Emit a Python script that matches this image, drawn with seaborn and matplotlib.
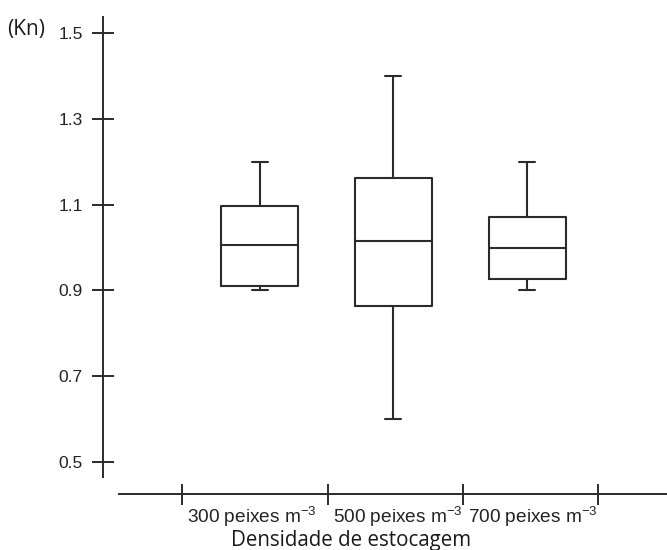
import matplotlib
matplotlib.use("Agg")
import matplotlib.pyplot as plt
import seaborn as sns
import pandas as pd

# Data: five-number summaries per group (min, Q1, median, Q3, max)
groups = ["300", "500", "700"]
tick_labels = [r"300 peixes m$^{\mathrm{-3}}$", r"500 peixes m$^{\mathrm{-3}}$", r"700 peixes m$^{\mathrm{-3}}$"]
kn_300 = [0.900, 0.911, 1.006, 1.096, 1.200]
kn_500 = [0.600, 0.863, 1.014, 1.163, 1.400]
kn_700 = [0.900, 0.926, 0.999, 1.070, 1.200]
y_ticks = [0.5, 0.7, 0.9, 1.1, 1.3, 1.5]
y_tick_labels = ["0.5", "0.7", "0.9", "1.1", "1.3", "1.5"]

df = pd.DataFrame({
    "grupo": [groups[0]] * len(kn_300) + [groups[1]] * len(kn_500) + [groups[2]] * len(kn_700),
    "Kn": kn_300 + kn_500 + kn_700,
})

sns.set_style("white")
plt.rcParams["font.family"] = ["Liberation Sans", "DejaVu Sans"]
plt.rcParams["mathtext.fontset"] = "custom"
plt.rcParams["mathtext.rm"] = "Liberation Sans"
plt.rcParams["mathtext.it"] = "Liberation Sans:italic"
plt.rcParams["mathtext.bf"] = "Liberation Sans:bold"

W, H = 667, 550
fig = plt.figure(figsize=(W / 100, H / 100), dpi=100)
ax_left, ax_right, ax_top, ax_bottom = 119, 667, 17, 494
ax = fig.add_axes([ax_left / W, 1 - ax_bottom / H, (ax_right - ax_left) / W, (ax_bottom - ax_top) / H])

line_col = "#2b2b2b"
text_col = "#222222"
lw = 1.5
sns.boxplot(
    data=df, x="grupo", y="Kn", order=groups, ax=ax,
    width=0.576, whis=(0, 100), fill=False, color=line_col, linewidth=lw,
    capwidths=0.12,
    boxprops=dict(color=line_col, linewidth=lw),
    whiskerprops=dict(color=line_col, linewidth=lw),
    capprops=dict(color=line_col, linewidth=lw),
    medianprops=dict(color=line_col, linewidth=lw),
)

ax.set_xlim(-1.052, 3.045)
ax.set_ylim(0.4254, 1.5373)

# spines
for s in ["top", "right"]:
    ax.spines[s].set_visible(False)
ax.spines["left"].set_position(("outward", 16 * 72 / 100))
ax.spines["left"].set_bounds(0.465, 1.5373)
for s in ["left", "bottom"]:
    ax.spines[s].set_color(line_col)
    ax.spines[s].set_linewidth(1.4)

# y ticks
ax.set_yticks(y_ticks)
ax.set_yticklabels(y_tick_labels, fontsize=12.5, color=text_col)
ax.tick_params(axis="y", direction="inout", length=22 * 72 / 100, width=1.4, color=line_col, pad=6.5, left=True)

# x ticks: labels near categories, boundary tick marks as minor ticks
ax.set_xticks([-0.06, 1.03, 2.04])
ax.set_xticklabels(tick_labels, fontsize=13.7, color=text_col)
ax.tick_params(axis="x", which="major", length=0, pad=8)
ax.set_xticks([-0.5785, 0.5122, 1.5215, 2.531], minor=True)
ax.tick_params(axis="x", which="minor", direction="inout", length=21 * 72 / 100, width=1.4, color=line_col, bottom=True)
ax.set_xlabel("")
ax.set_ylabel("")

fig.text(231 / W, 1 - 546 / H, "Densidade de estocagem", fontsize=14.8, family=["Open Sans", "DejaVu Sans"],
         color="#1a1a1a", ha="left", va="baseline")
fig.text(7 / W, 1 - 35 / H, "(Kn)", fontsize=15, family=["Open Sans", "DejaVu Sans"],
         color="#1a1a1a", ha="left", va="baseline")

fig.savefig("out.png", dpi=100)
